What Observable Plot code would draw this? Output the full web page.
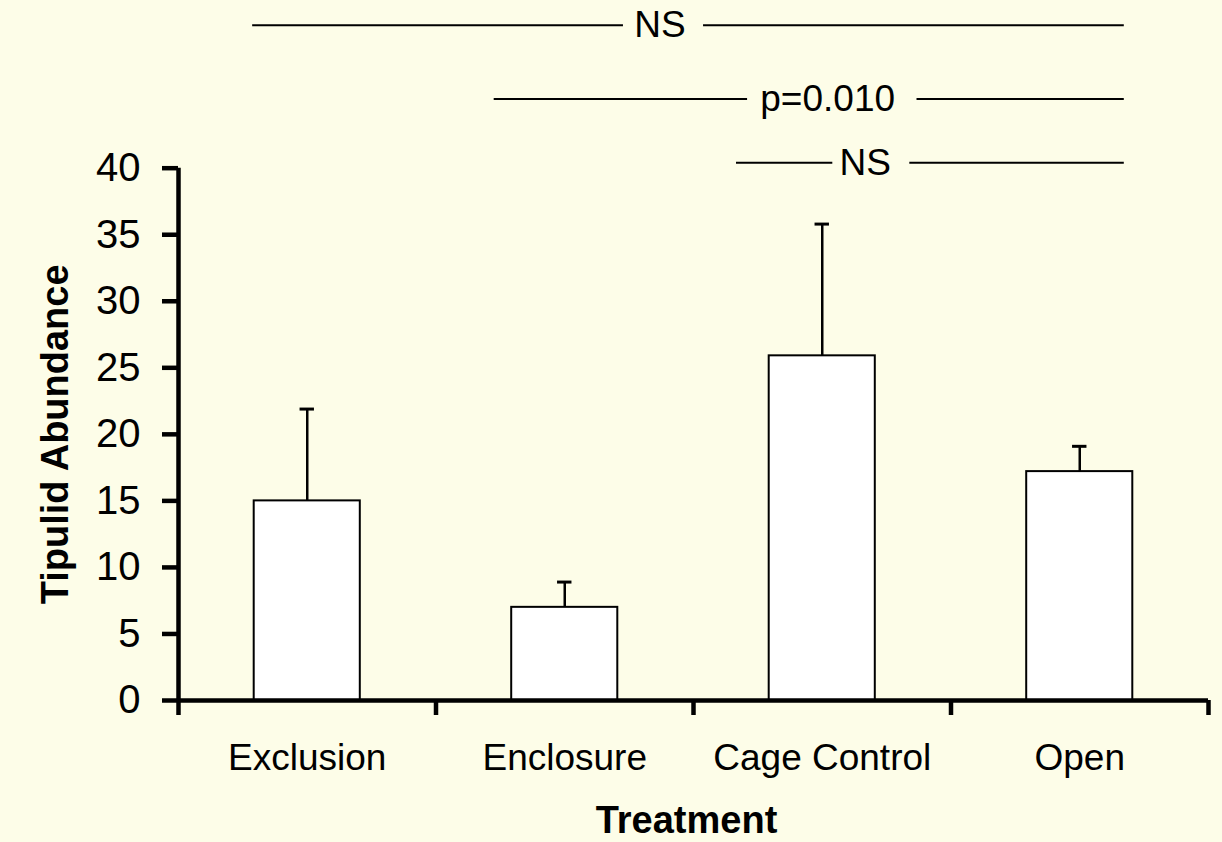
<!DOCTYPE html>
<html>
<head>
<meta charset="utf-8">
<script src="https://cdn.jsdelivr.net/npm/d3@7"></script>
<script src="https://cdn.jsdelivr.net/npm/@observablehq/plot@0.6"></script>
<style>
  html, body { margin: 0; padding: 0; background: #fdfde8; }
  #chart svg { display: block; }
</style>
</head>
<body>
<div id="chart"></div>
<script>
// ---- data ----
const categories = ["Exclusion", "Enclosure", "Cage Control", "Open"];
const means = [15.0, 7.0, 25.9, 17.2];
const upperError = [21.9, 8.9, 35.8, 19.1];
const yTicks = [0, 5, 10, 15, 20, 25, 30, 35, 40];

// significance annotations (in data units of the chart)
const sigLabels = ["NS", "p=0.010", "NS"];
const sigY = [50.75, 45.2, 40.4];
const sigLeftFrom = [0.288, 1.226, 2.167];
const sigLeftTo = [1.728, 2.210, 2.541];
const sigRightFrom = [2.039, 2.868, 2.840];
const sigRightTo = [3.673, 3.673, 3.673];
const sigTextX = [1.870, 2.521, 2.667];

// ---- tables built from arrays ----
const bars = categories.map((c, i) => ({cat: c, i, mean: means[i], upper: upperError[i]}));
const segments = sigLabels.flatMap((l, k) => [
  {x1: sigLeftFrom[k], x2: sigLeftTo[k], y: sigY[k]},
  {x1: sigRightFrom[k], x2: sigRightTo[k], y: sigY[k]}
]);
const sigText = sigLabels.map((l, k) => ({label: l, x: sigTextX[k], y: sigY[k]}));

const half = 0.206, cap = 0.028;
const font = "'Liberation Sans', Arial, Helvetica, sans-serif";

const chart = Plot.plot({
  width: 1222,
  height: 842,
  marginLeft: 178,
  marginRight: 14,
  marginTop: 8,
  marginBottom: 142,
  style: {background: "#fdfde8", fontFamily: font, color: "#000", overflow: "visible"},
  x: {type: "linear", domain: [0, 4], axis: null},
  y: {domain: [0, 52], axis: null},
  marks: [
    Plot.rectY(bars, {
      x1: d => d.i + 0.5 - half, x2: d => d.i + 0.5 + half,
      y1: 0, y2: "mean", fill: "#ffffff", stroke: "#000", strokeWidth: 2
    }),
    Plot.ruleX(bars, {x: d => d.i + 0.5, y1: "mean", y2: "upper", stroke: "#000", strokeWidth: 2.5}),
    Plot.ruleY(bars, {y: "upper", x1: d => d.i + 0.5 - cap, x2: d => d.i + 0.5 + cap, stroke: "#000", strokeWidth: 3}),
    // axis lines
    Plot.ruleX([0], {y1: 0, y2: 40, stroke: "#000", strokeWidth: 4.5}),
    Plot.ruleY([0], {x1: 0, x2: 4, stroke: "#000", strokeWidth: 4.5}),
    Plot.axisY({ticks: yTicks, tickSize: 16, tickPadding: 22, fontSize: 40, strokeWidth: 4.5, tickFormat: d => String(d), label: null, fill: "#000"}),
    Plot.axisX({ticks: [0, 1, 2, 3, 4], tickSize: 15, tickFormat: () => "", strokeWidth: 4.5, label: null}),
    Plot.axisX({ticks: categories.map((c, i) => i + 0.5), tickSize: 0, tickPadding: 43, fontSize: 37,
      tickFormat: d => categories[Math.floor(d)], label: null, fill: "#000"}),
    Plot.text(["Treatment"], {frameAnchor: "bottom", dx: -7, dy: 120, fontSize: 38, fontWeight: "bold", fill: "#000", lineAnchor: "middle", textAnchor: "middle"}),
    Plot.text(["Tipulid Abundance"], {y: 20, frameAnchor: "left", dx: -123, rotate: -90, fontSize: 38, fontWeight: "bold", fill: "#000", lineAnchor: "middle", textAnchor: "middle"}),
    // significance annotations
    Plot.ruleY(segments, {x1: "x1", x2: "x2", y: "y", stroke: "#000", strokeWidth: 2}),
    Plot.text(sigText, {x: "x", y: "y", text: "label", fontSize: 37, fill: "#000", lineAnchor: "middle"})
  ]
});
document.getElementById("chart").appendChild(chart);
</script>
</body>
</html>
